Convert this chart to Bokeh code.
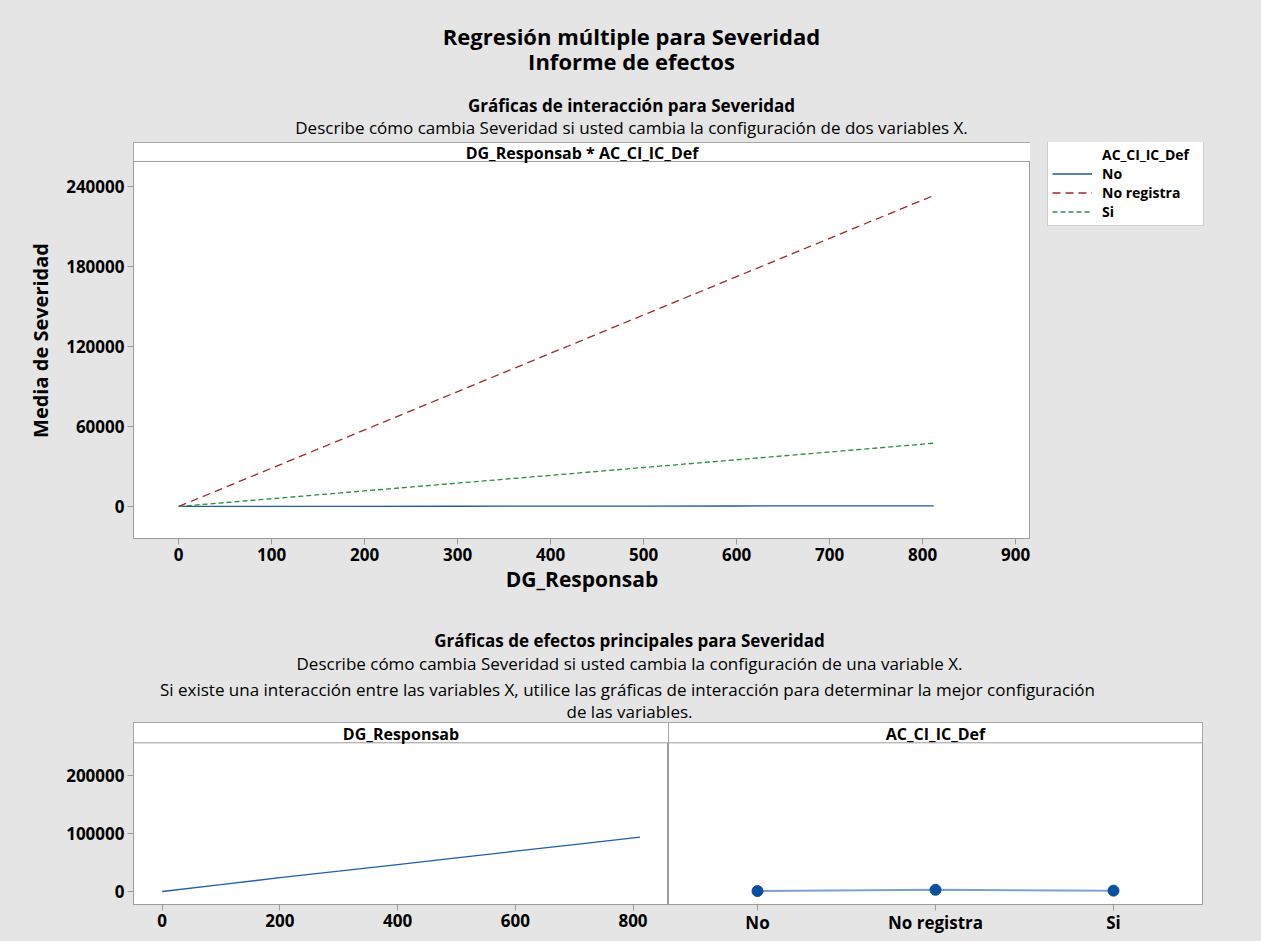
from bokeh.plotting import figure
from bokeh.models import (Range1d, FactorRange, Label, BoxAnnotation, Legend, LegendItem,
                          FixedTicker, BasicTickFormatter)
from bokeh.layouts import column, row
from bokeh.embed import file_html
from bokeh.resources import INLINE

# ---------------- data ----------------
dg_x = [0, 100, 200, 300, 400, 500, 600, 700, 812]
sev_no = [0, 60, 120, 180, 240, 300, 360, 420, 490]
sev_no_registra = [0, 28700, 57400, 86100, 114800, 143500, 172200, 200900, 233000]
sev_si = [0, 5800, 11700, 17500, 23300, 29200, 35000, 40800, 47400]

main_dg_x = [0, 100, 200, 300, 400, 500, 600, 700, 812]
main_dg_y = [0, 11700, 24000, 35000, 46500, 58000, 69500, 81000, 93600]

ac_levels = ["No", "No registra", "Si"]
ac_means = [800, 3000, 1500]

top_x_ticks = [0, 100, 200, 300, 400, 500, 600, 700, 800, 900]
top_y_ticks = [0, 60000, 120000, 180000, 240000]
bot_x_ticks = [0, 200, 400, 600, 800]
bot_y_ticks = [0, 100000, 200000]

legend_title = "AC_CI_IC_Def"
series_names = ["No", "No registra", "Si"]
series_colors = ["#1f5aa6", "#a0282d", "#24903c"]
series_dashes = ["solid", "8 5", "5 3"]

# ---------------- styling ----------------
FONT = "Open Sans"
BG = "#e5e5e5"
EDGE = "#9c9c9c"
W = 1256
TICK_FS = "17px"


def style(p):
    p.background_fill_color = "white"
    p.border_fill_color = BG
    p.outline_line_color = EDGE
    p.outline_line_width = 1
    p.grid.visible = False
    for ax in p.axis:
        ax.axis_line_color = EDGE
        ax.major_tick_line_color = EDGE
        ax.major_tick_out = 6
        ax.major_tick_in = 0
        ax.minor_tick_line_color = None
        ax.major_label_text_font = FONT
        ax.major_label_text_font_size = TICK_FS
        ax.major_label_text_font_style = "bold"
        ax.major_label_text_color = "black"
        ax.major_label_standoff = 3


def frame_label(p, text, X, Y, size, fl, fb):
    p.add_layout(Label(x=X - fl, y=fb - Y, x_units="screen", y_units="screen", text=text,
                       text_align="center", text_baseline="middle", text_font=FONT,
                       text_font_size=size, text_font_style="bold", text_color="black"))


def text_fig(width, height):
    f = figure(width=width, height=height, x_range=Range1d(0, width), y_range=Range1d(height, 0),
               output_backend="svg", toolbar_location=None, min_border=0,
               x_axis_location=None, y_axis_location=None, frame_align=False)
    f.background_fill_color = BG
    f.border_fill_color = BG
    f.outline_line_color = None
    f.grid.visible = False
    return f


def text_label(f, text, X, Y, top, size, bold):
    f.add_layout(Label(x=X, y=Y - top, text=text, text_align="center", text_baseline="middle",
                       text_font=FONT, text_font_size=size,
                       text_font_style="bold" if bold else "normal", text_color="black"))


# ---------------- header texts ----------------
head = text_fig(W, 142)
text_label(head, "Regresión múltiple para Severidad", 631, 35, 0, "22px", True)
text_label(head, "Informe de efectos", 631, 60, 0, "22px", True)
text_label(head, "Gráficas de interacción para Severidad", 631, 105, 0, "17px", True)
text_label(head, "Describe cómo cambia Severidad si usted cambia la configuración de dos variables X.",
           631, 127, 0, "17px", False)

# ---------------- top figure (interaction plot) ----------------
top = figure(width=1030, height=464, x_range=Range1d(-48.6, 916), y_range=Range1d(-24000, 272700),
             output_backend="svg", toolbar_location=None, frame_align=False,
             min_border_left=133, min_border_right=0, min_border_top=0, min_border_bottom=68)
style(top)
top.xaxis.ticker = FixedTicker(ticks=top_x_ticks)
top.yaxis.ticker = FixedTicker(ticks=top_y_ticks)
top.yaxis.formatter = BasicTickFormatter(use_scientific=False)
top.xaxis.axis_label = "DG_Responsab"
top.yaxis.axis_label = "Media de Severidad"
for ax in top.axis:
    ax.axis_label_text_font = FONT
    ax.axis_label_text_font_style = "bold"
    ax.axis_label_text_color = "black"
top.xaxis.axis_label_text_font_size = "21px"
top.yaxis.axis_label_text_font_size = "20px"
top.xaxis.axis_label_standoff = 1
top.yaxis.axis_label_standoff = 9

top.add_layout(BoxAnnotation(bottom=258500, fill_color="white", fill_alpha=1,
                             line_color=EDGE, line_alpha=1, line_width=1))

series_ys = [sev_no, sev_no_registra, sev_si]
for ys, c, d in zip(series_ys, series_colors, series_dashes):
    top.line(dg_x, ys, line_color=c, line_dash=d, line_width=1.3)

frame_label(top, "DG_Responsab * AC_CI_IC_Def", 581.5, 152, "16px", 133, 538)

# ---------------- legend panel (right of the interaction plot) ----------------
leg_fig = text_fig(W - 1030, 464)
r_ttl = leg_fig.line(x=[0], y=[0], line_alpha=0)
items = [LegendItem(label=legend_title, renderers=[r_ttl])]
for name, c, d in zip(series_names, series_colors, series_dashes):
    r = leg_fig.line(x=[0], y=[0], line_color=c, line_dash=d, line_width=1.3)
    items.append(LegendItem(label=name, renderers=[r]))
legend = Legend(items=items, location=(1047 - 1030, 464 - (226 - 142)))
legend.label_text_font = FONT
legend.label_text_font_size = "14px"
legend.label_text_font_style = "bold"
legend.label_text_color = "black"
legend.label_height = 19
legend.label_width = 97
legend.glyph_height = 19
legend.glyph_width = 40
legend.label_standoff = 10
legend.padding = 4
legend.spacing = 0
legend.margin = 0
legend.border_line_color = EDGE
legend.background_fill_color = "white"
legend.background_fill_alpha = 1
leg_fig.add_layout(legend)

# ---------------- middle texts ----------------
MID_TOP = 606
mid = text_fig(W, 722 - MID_TOP)
text_label(mid, "Gráficas de efectos principales para Severidad", 629, 640, MID_TOP, "17px", True)
text_label(mid, "Describe cómo cambia Severidad si usted cambia la configuración de una variable X.",
           629, 663, MID_TOP, "17px", False)
text_label(mid, "Si existe una interacción entre las variables X, utilice las gráficas de interacción "
                "para determinar la mejor configuración", 627, 689, MID_TOP, "17px", False)
text_label(mid, "de las variables.", 629, 711, MID_TOP, "17px", False)

# ---------------- bottom left (DG_Responsab main effect) ----------------
bl = figure(width=668, height=216, x_range=Range1d(-48.8, 860.3), y_range=Range1d(-22400, 291400),
            output_backend="svg", toolbar_location=None, frame_align=False,
            min_border_left=133, min_border_right=0, min_border_top=0, min_border_bottom=34)
style(bl)
bl.xaxis.ticker = FixedTicker(ticks=bot_x_ticks)
bl.yaxis.ticker = FixedTicker(ticks=bot_y_ticks)
bl.yaxis.formatter = BasicTickFormatter(use_scientific=False)
bl.add_layout(BoxAnnotation(bottom=256400, fill_color="white", fill_alpha=1,
                            line_color=EDGE, line_alpha=1, line_width=1))
bl.line(main_dg_x, main_dg_y, line_color="#1f5fae", line_width=1.3)
frame_label(bl, "DG_Responsab", 400.5, 733, "16px", 133, 904)

# ---------------- bottom right (AC_CI_IC_Def main effect) ----------------
br = figure(width=W - 668, height=216, x_range=FactorRange(*ac_levels), y_range=bl.y_range,
            y_axis_location=None, output_backend="svg", toolbar_location=None, frame_align=False,
            min_border_left=0, min_border_right=W - 1202, min_border_top=0, min_border_bottom=34)
style(br)
br.xaxis.major_label_standoff = 0
br.add_layout(BoxAnnotation(bottom=256400, fill_color="white", fill_alpha=1,
                            line_color=EDGE, line_alpha=1, line_width=1))
br.line(ac_levels, ac_means, line_color="#7aa3d4", line_width=2)
br.scatter(ac_levels, ac_means, size=11, fill_color="#0a4f9e", line_color="#0a4f9e")
frame_label(br, "AC_CI_IC_Def", 935, 733, "16px", 668, 904)

layout = column(head, row(top, leg_fig), mid, row(bl, br))
html = file_html(layout, INLINE)
html = html.replace("<head>", "<head><style>html, body {background: #e5e5e5;}</style>", 1)
open("out.html", "w").write(html)
